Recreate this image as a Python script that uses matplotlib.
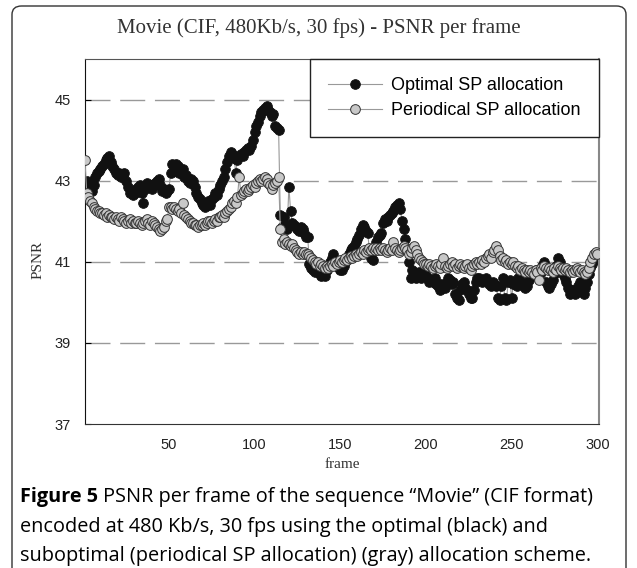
import numpy as np
import matplotlib
matplotlib.use("Agg")
import matplotlib.pyplot as plt
from matplotlib.patches import FancyBboxPatch

# PSNR per frame (frames 1..300)
optimal = [
    42.95, 43.0, 42.95, 42.9, 42.75, 42.9, 43.1, 43.2, 43.25, 43.3,
    43.35, 43.4, 43.5, 43.55, 43.6, 43.45, 43.35, 43.3, 43.2, 43.15,
    43.2, 43.1, 43.15, 43.2, 43.0, 42.85, 42.7, 42.75, 42.65, 42.7,
    42.8, 42.85, 42.9, 42.7, 42.45, 42.8, 42.95, 42.85, 42.9, 42.8,
    42.9, 42.95, 43.0, 43.05, 42.9, 42.75, 42.8, 42.7, 42.75, 42.8,
    43.2, 43.4, 43.35, 43.4, 43.35, 43.2, 43.25, 43.3, 43.1, 43.15,
    43.0, 42.95, 43.05, 43.0, 42.85, 42.7, 42.6, 42.55, 42.45, 42.4,
    42.35, 42.45, 42.5, 42.4, 42.55, 42.6, 42.7, 42.65, 42.8, 42.9,
    43.0, 43.1, 43.3, 43.45, 43.6, 43.7, 43.65, 43.55, 43.2, 43.5,
    43.6, 43.65, 43.6, 43.7, 43.75, 43.8, 43.75, 43.85, 44.0, 44.2,
    44.35, 44.45, 44.6, 44.7, 44.75, 44.8, 44.85, 44.75, 44.7, 44.6,
    44.65, 44.35, 44.3, 44.25, 42.15, 41.85, 42.1, 41.9, 41.8, 42.85,
    42.25, 41.95, 41.9, 41.85, 41.8, 41.75, 41.85, 41.8, 41.7, 41.6,
    41.6, 40.95, 40.85, 40.8, 40.75, 40.9, 40.8, 40.7, 40.65, 40.7,
    40.65, 40.8, 40.9, 41.0, 41.1, 41.2, 41.05, 40.95, 40.85, 40.8,
    40.8, 40.9, 41.0, 41.1, 41.2, 41.3, 41.35, 41.4, 41.5, 41.55,
    41.65, 41.8, 41.9, 41.85, 41.75, 41.7, 41.3, 41.1, 41.05, 41.3,
    41.5, 41.6, 41.65, 41.7, 41.95, 42.05, 42.0, 42.1, 42.15, 42.2,
    42.25, 42.35, 42.4, 42.45, 42.3, 42.0, 41.8, 41.55, 41.3, 41.0,
    40.6, 40.8, 40.75, 40.6, 40.7, 40.75, 40.6, 40.65, 40.7, 40.65,
    40.6, 40.5, 40.55, 40.5, 40.6, 40.45, 40.4, 40.3, 40.45, 40.4,
    40.35, 40.5, 40.6, 40.55, 40.45, 40.5, 40.2, 40.1, 40.05, 40.3,
    40.45, 40.5, 40.35, 40.3, 40.2, 40.1, 40.1, 40.3, 40.5, 40.6,
    40.6, 40.55, 40.5, 40.55, 40.6, 40.5, 40.45, 40.4, 40.5, 40.45,
    40.4, 40.1, 40.05, 40.4, 40.6, 40.1, 40.05, 40.5, 40.55, 40.1,
    40.45, 40.5, 40.4, 40.6, 40.55, 40.45, 40.4, 40.35, 40.4, 40.55,
    40.65, 40.7, 40.75, 40.8, 40.7, 40.6, 40.75, 40.9, 41.0, 40.5,
    40.4, 40.35, 40.45, 40.55, 40.7, 40.9, 41.1, 41.0, 40.85, 40.7,
    40.6, 40.5, 40.35, 40.2, 40.25, 40.3, 40.2, 40.25, 40.4, 40.5,
    40.45, 40.2, 40.35, 40.5, 40.7, 40.85, 40.95, 41.05, 41.1, 41.15,
]

periodical = [
    43.5, 42.7, 42.6, 42.5, 42.45, 42.35, 42.3, 42.25, 42.25, 42.2,
    42.2, 42.15, 42.2, 42.1, 42.15, 42.1, 42.1, 42.05, 42.1, 42.05,
    42.0, 42.1, 42.05, 42.0, 41.95, 42.0, 42.05, 41.95, 42.0, 41.95,
    41.95, 42.0, 41.95, 41.9, 41.95, 42.0, 42.05, 41.95, 41.9, 42.0,
    41.95, 41.9, 41.85, 41.8, 41.75, 41.8, 41.85, 42.0, 42.05, 42.35,
    42.35, 42.3, 42.35, 42.3, 42.25, 42.3, 42.2, 42.45, 42.15, 42.1,
    42.05, 42.0, 41.95, 41.95, 41.9, 41.9, 41.85, 41.9, 41.9, 41.95,
    41.9, 41.95, 42.0, 42.0, 41.95, 42.0, 42.05, 42.0, 42.1, 42.1,
    42.15, 42.1, 42.2, 42.25, 42.3, 42.35, 42.45, 42.5, 42.45, 42.6,
    43.1, 42.65, 42.7, 42.75, 42.8, 42.75, 42.8, 42.85, 42.9, 42.85,
    42.95, 43.0, 43.05, 43.0, 43.05, 43.1, 43.05, 42.95, 42.9, 42.8,
    42.9, 42.95, 43.0, 43.1, 41.8, 41.5, 41.55, 41.45, 41.5, 41.45,
    41.4, 41.45, 41.35, 41.3, 41.25, 41.2, 41.25, 41.2, 41.25, 41.2,
    41.2, 41.15, 41.1, 41.05, 41.0, 40.95, 41.0, 40.9, 40.95, 40.9,
    40.85, 40.9, 40.85, 40.9, 40.95, 40.9, 41.0, 40.95, 41.0, 41.05,
    41.0, 41.05, 41.1, 41.05, 41.1, 41.15, 41.1, 41.15, 41.2, 41.15,
    41.2, 41.25, 41.2, 41.3, 41.25, 41.3, 41.35, 41.3, 41.35, 41.3,
    41.35, 41.3, 41.35, 41.3, 41.35, 41.3, 41.25, 41.3, 41.35, 41.3,
    41.5, 41.35, 41.3, 41.25, 41.3, 41.35, 41.4, 41.35, 41.3, 41.2,
    41.25, 41.35, 41.4, 41.3, 41.2, 41.1, 41.05, 41.0, 40.95, 40.95,
    40.9, 40.95, 40.9, 40.85, 40.9, 40.95, 40.9, 40.85, 40.95, 41.1,
    40.9, 40.85, 40.9, 40.95, 41.0, 40.9, 40.95, 40.85, 40.9, 40.95,
    40.9, 40.85, 40.9, 40.95, 40.85, 40.8, 40.9, 40.95, 41.0, 40.95,
    41.0, 40.95, 41.05, 41.0, 41.1, 41.15, 41.2, 41.1, 41.25, 41.3,
    41.4, 41.3, 41.15, 41.05, 41.1, 41.0, 41.05, 40.95, 41.0, 40.95,
    41.0, 40.9, 40.85, 40.9, 40.8, 40.85, 40.8, 40.75, 40.8, 40.75,
    40.8, 40.75, 40.7, 40.8, 40.75, 40.55, 40.85, 40.8, 40.9, 40.85,
    40.8, 40.85, 40.8, 40.75, 40.85, 40.8, 40.9, 40.85, 40.8, 40.85,
    40.8, 40.85, 40.8, 40.75, 40.8, 40.75, 40.8, 40.85, 40.8, 40.75,
    40.8, 40.75, 40.7, 40.75, 40.85, 41.0, 41.1, 41.2, 41.25, 41.2,
]

frames = np.arange(1, len(optimal) + 1)
xticks = [50, 100, 150, 200, 250, 300]
yticks = [37, 39, 41, 43, 45]
series_names = ['Optimal SP allocation', 'Periodical SP allocation']

W, H = 637, 568
fig = plt.figure(figsize=(W / 100, H / 100), dpi=100)
ax = fig.add_axes([85 / W, 1 - 424 / H, (599 - 85) / W, (424 - 59) / H])

# rounded frame around the whole panel (bottom edge runs off the image)
border = FancyBboxPatch((12 / W, -0.3), (626 - 12) / W, 1.3 - 6 / H,
                        boxstyle="round,pad=0,rounding_size=0.015",
                        transform=fig.transFigure, fill=False,
                        edgecolor='#333333', linewidth=1.0)
fig.patches.append(border)

for yv in yticks[1:]:
    ax.axhline(yv, color='#999999', lw=1.0, ls=(0, (18, 7)), zorder=0)

ax.plot(frames, optimal, '-o', color='#999999', lw=0.8,
        mfc='#111111', mec='#111111', ms=7, mew=0.6, label=series_names[0], zorder=2)
ax.plot(frames, periodical, '-o', color='#999999', lw=0.8,
        mfc='#c8c8c8', mec='#333333', ms=7, mew=0.7, label=series_names[1], zorder=3)

ax.set_xlim(1, 301)
ax.set_ylim(37, 46)
ax.set_xticks(xticks)
ax.set_yticks(yticks)
ax.tick_params(axis='x', length=0, pad=10, labelsize=10.5, labelcolor='#222222')
ax.tick_params(axis='y', direction='in', length=4, pad=10, labelsize=10.5, labelcolor='#222222')
for lab in ax.get_xticklabels() + ax.get_yticklabels():
    lab.set_family('Liberation Sans')

ax.spines['left'].set_color('#111111')
ax.spines['bottom'].set_color('#333333')
ax.spines['top'].set_color('#555555')
ax.spines['right'].set_color('#888888')
ax.spines['right'].set_linewidth(1.5)

leg = ax.legend(loc='upper right', borderaxespad=0, fancybox=False,
                framealpha=1, edgecolor='#222222', handlelength=3.0,
                borderpad=1.0, labelspacing=0.45, handletextpad=0.5,
                prop={'family': 'Liberation Sans', 'size': 13})
leg.get_frame().set_linewidth(1.0)

fig.text(0.5, 1 - 28 / H, 'Movie (CIF, 480Kb/s, 30 fps) - PSNR per frame',
         ha='center', va='center', family='Liberation Serif', fontsize=15, color='#333333')
fig.text(342 / W, 1 - 465 / H, 'frame', ha='center', va='center',
         family='Liberation Serif', fontsize=11, color='#333333')
fig.text(38 / W, 1 - 260 / H, 'PSNR', ha='center', va='center', rotation=90,
         family='Liberation Serif', fontsize=11, color='#333333')

# caption: bold label then regular text on the first line
cap_font = 'Open Sans'
cap_size = 14.3
r = fig.canvas.get_renderer()
t0 = fig.text(20 / W, 1 - 497 / H, 'Figure 5', ha='left', va='center',
              family=cap_font, fontsize=cap_size, weight='bold', color='#000000')
bb = t0.get_window_extent(renderer=r)
fig.text((bb.x1 + 5) / W, 1 - 497 / H,
         'PSNR per frame of the sequence \u201cMovie\u201d (CIF format)',
         ha='left', va='center', family=cap_font, fontsize=cap_size, color='#000000')
fig.text(20 / W, 1 - 527 / H,
         'encoded at 480 Kb/s, 30 fps using the optimal (black) and',
         ha='left', va='center', family=cap_font, fontsize=cap_size, color='#000000')
fig.text(20 / W, 1 - 556 / H,
         'suboptimal (periodical SP allocation) (gray) allocation scheme.',
         ha='left', va='center', family=cap_font, fontsize=cap_size, color='#000000')

fig.savefig('out.png', dpi=100)
